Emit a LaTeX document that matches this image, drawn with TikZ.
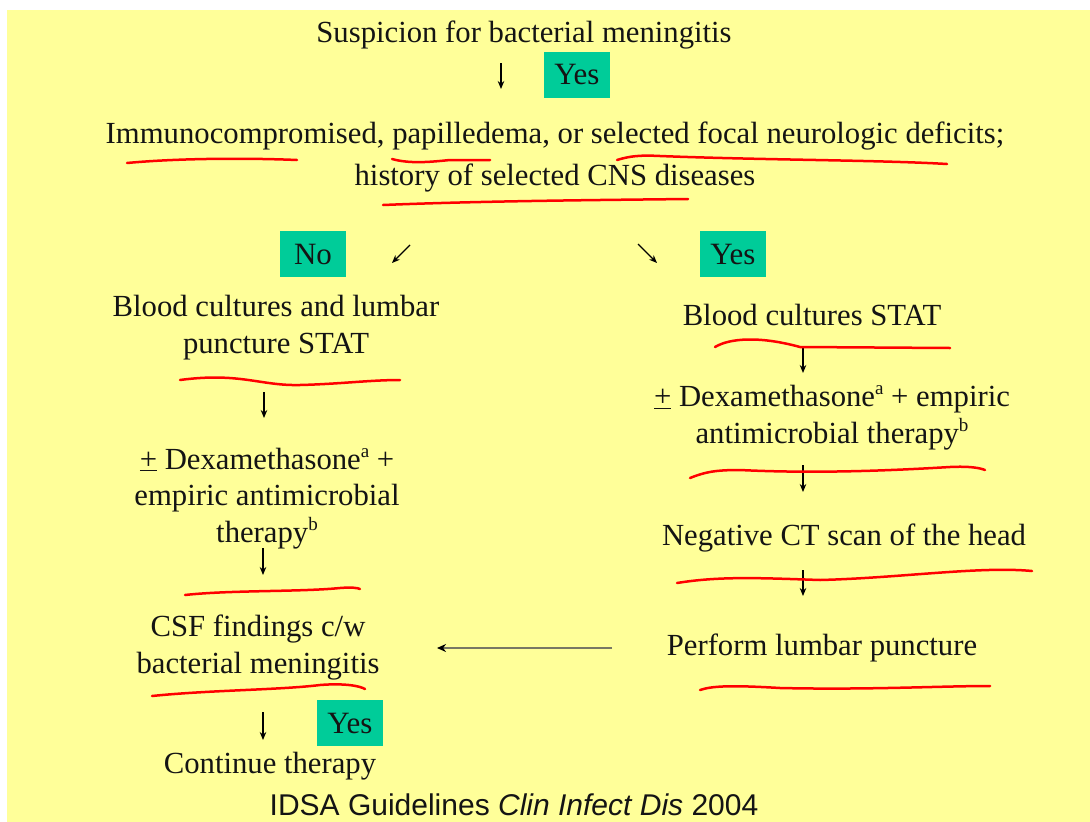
\documentclass[tikz,border=0pt]{standalone}
\usepackage{fontspec}
\setmainfont{Liberation Serif}
\newfontfamily\arialfont{Liberation Sans}
\usetikzlibrary{arrows.meta}
\definecolor{bgyellow}{HTML}{FFFF99}
\definecolor{tealbox}{HTML}{00CC99}
\definecolor{penred}{HTML}{FF0000}
\definecolor{inkdark}{HTML}{141414}
\newcommand{\supmark}[1]{\raisebox{0.38em}{\fontsize{19}{19}\selectfont #1}}
\begin{document}
\begin{tikzpicture}[x=1pt,y=-1pt,
  txt/.style={font=\fontsize{30.7}{36.5}\selectfont, align=center, inner sep=0pt, anchor=base, text=inkdark},
  tag/.style={fill=tealbox, minimum width=66pt, minimum height=46pt, inner sep=0pt, text=inkdark, font=\fontsize{31}{36}\selectfont},
  arr/.style={-{Stealth[length=8pt,width=6.5pt]}, line width=1.3pt},
  pen/.style={draw=penred, line width=2.5pt, line cap=round}]
\fill[white] (0,0) rectangle (1090,822);
\fill[bgyellow] (7,10) rectangle (1090,822);
\useasboundingbox (0,0) rectangle (1090,822);
% texts (multi-line nodes: base = baseline of last line)
\node[txt] (susp) at (524,42) {Suspicion for bacterial meningitis};
\node[tag] (yes1) at (577,75) {Yes};
\node[txt] (immuno) at (555,143) {Immunocompromised, papilledema, or selected focal neurologic deficits;};
\node[txt] (hist) at (555,185) {history of selected CNS diseases};
\node[tag] (no) at (313,254) {No};
\node[tag] (yes2) at (733,254) {Yes};
\node[txt] (bcl) at (276,353) {Blood cultures and lumbar\\puncture STAT};
\node[txt] (bcr) at (812,325) {Blood cultures STAT};
\node[txt] (dexr) at (832,443) {\underline{+} Dexamethasone\supmark{a} + empiric\\antimicrobial therapy\supmark{b}};
\node[txt] (dexl) at (267,542) {\underline{+} Dexamethasone\supmark{a} +\\empiric antimicrobial\\therapy\supmark{b}};
\node[txt] (ct) at (844,545) {Negative CT scan of the head};
\node[txt] (lp) at (822,655) {Perform lumbar puncture};
\node[txt] (csf) at (258,673) {CSF findings c/w\\bacterial meningitis};
\node[tag] (yes3) at (350,723) {Yes};
\node[txt] (cont) at (270,773) {Continue therapy};
\node[txt, font=\arialfont\fontsize{30}{36}\selectfont] (ref) at (514,815) {IDSA Guidelines \textit{Clin Infect Dis} 2004};
% arrow end points
\coordinate (a1s) at (501,63);  \coordinate (a1e) at (501,89);
\coordinate (dls) at (410,245); \coordinate (dle) at (392,263);
\coordinate (drs) at (638,244); \coordinate (dre) at (657,263);
\coordinate (l1s) at (264,392); \coordinate (l1e) at (264,418);
\coordinate (l2s) at (263,548); \coordinate (l2e) at (263,575);
\coordinate (l3s) at (263,712); \coordinate (l3e) at (263,740);
\coordinate (r1s) at (803,347); \coordinate (r1e) at (803,373);
\coordinate (r2s) at (803,465); \coordinate (r2e) at (803,492);
\coordinate (r3s) at (803,570); \coordinate (r3e) at (803,596);
\coordinate (hs) at (612,648);  \coordinate (he) at (437,648);
\draw[arr] (a1s) -- (a1e);
\draw[arr] (dls) -- (dle);
\draw[arr] (drs) -- (dre);
\draw[arr] (l1s) -- (l1e);
\draw[arr] (l2s) -- (l2e);
\draw[arr] (l3s) -- (l3e);
\draw[arr] (r1s) -- (r1e);
\draw[arr] (r2s) -- (r2e);
\draw[arr] (r3s) -- (r3e);
\draw[-{Stealth[length=9pt,width=8pt,color=black]}, line width=2pt, draw={rgb,255:red,120;green,120;blue,100}] (hs) -- (he);
% red hand-drawn underlines
\draw[pen] (127,163) .. controls (180,158) and (250,158) .. (297,160);
\draw[pen] (392,159) .. controls (410,164) and (430,162) .. (450,160) -- (490,160);
\draw[pen] (617,160) .. controls (630,156) and (640,155) .. (660,156) .. controls (760,160) and (880,160) .. (947,164);
\draw[pen] (383,205) .. controls (480,201) and (600,200) .. (688,199);
\draw[pen] (180,380) .. controls (240,372) and (260,386) .. (300,385) .. controls (340,384) and (370,380) .. (400,380);
\draw[pen] (715,347) .. controls (730,338) and (760,336) .. (800,347) -- (950,348);
\draw[pen] (690,478) .. controls (705,472) and (715,470) .. (740,470) .. controls (820,474) and (900,470) .. (950,467) .. controls (970,466) and (980,468) .. (985,470);
\draw[pen] (677,583) .. controls (720,576) and (760,578) .. (820,580) .. controls (900,578) and (980,566) .. (1032,571);
\draw[pen] (700,690) .. controls (712,686) and (730,685) .. (780,688) .. controls (870,690) and (940,686) .. (990,686);
\draw[pen] (185,595) .. controls (230,590) and (300,592) .. (340,588) .. controls (352,587) and (358,588) .. (360,589);
\draw[pen] (152,696) .. controls (210,690) and (280,690) .. (320,685) .. controls (345,683) and (360,686) .. (365,689);
\end{tikzpicture}
\end{document}
